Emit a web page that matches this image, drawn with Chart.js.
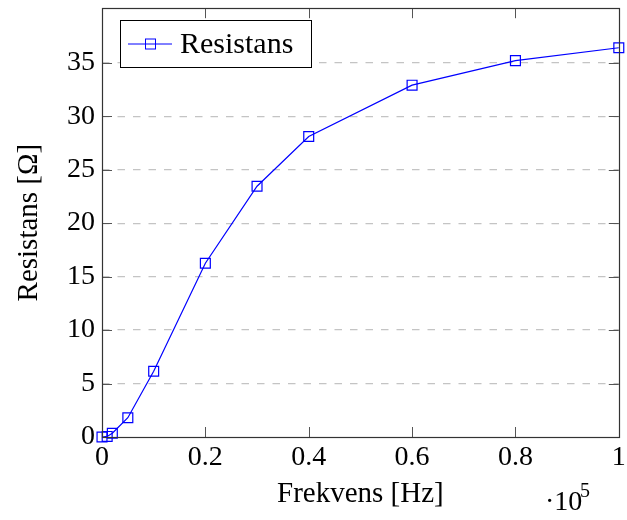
<!DOCTYPE html>
<html>
<head>
<meta charset="utf-8">
<script src="https://cdn.jsdelivr.net/npm/chart.js@4"></script>
<style>
html,body{margin:0;padding:0;background:#fff;}
#wrap{width:627px;height:520px;position:relative;}
</style>
</head>
<body>
<div id="wrap"><canvas id="c" width="627" height="520"></canvas></div>
<script>
const frequencies = [0, 1000, 2000, 5000, 10000, 20000, 30000, 40000, 60000, 80000, 100000];
const resistance = [0, 0.05, 0.35, 1.8, 6.15, 16.25, 23.45, 28.1, 32.9, 35.2, 36.4];
const xTickValues = [0, 20000, 40000, 60000, 80000, 100000];
const yTickValues = [0, 5, 10, 15, 20, 25, 30, 35];
const seriesLabel = 'Resistans';
const xTitle = 'Frekvens [Hz]';
const yTitle = 'Resistans [Ω]';

const FONT = '"Liberation Serif", "Times New Roman", serif';
const BLUE = '#0000ff';

const framePlugin = {
  id: 'frame',
  afterDraw(chart) {
    const {ctx, chartArea: a, scales: {x, y}} = chart;
    ctx.save();
    // ticks inside
    ctx.strokeStyle = '#555';
    ctx.lineWidth = 1;
    const tl = 10;
    ctx.beginPath();
    xTickValues.forEach(v => {
      const px = Math.round(x.getPixelForValue(v)) + 0.5;
      ctx.moveTo(px, a.bottom); ctx.lineTo(px, a.bottom - tl);
      ctx.moveTo(px, a.top); ctx.lineTo(px, a.top + tl);
    });
    yTickValues.forEach(v => {
      const py = Math.round(y.getPixelForValue(v)) + 0.5;
      ctx.moveTo(a.left, py); ctx.lineTo(a.left + tl, py);
      ctx.moveTo(a.right, py); ctx.lineTo(a.right - tl, py);
    });
    ctx.stroke();
    // frame
    ctx.strokeStyle = '#333';
    ctx.lineWidth = 1.2;
    ctx.strokeRect(Math.round(a.left) + 0.5, Math.round(a.top) + 0.5,
                   Math.round(a.right - a.left), Math.round(a.bottom - a.top));
    // legend
    const lx = 120.5, ly = 20.5, lw = 191, lh = 47;
    ctx.fillStyle = '#fff';
    ctx.fillRect(lx, ly, lw, lh);
    ctx.strokeStyle = '#000';
    ctx.lineWidth = 1;
    ctx.strokeRect(lx, ly, lw, lh);
    const cy = ly + lh / 2;
    ctx.strokeStyle = BLUE;
    ctx.beginPath();
    ctx.moveTo(128, cy); ctx.lineTo(172, cy);
    ctx.stroke();
    ctx.strokeRect(145.5, cy - 5, 10, 10);
    ctx.fillStyle = '#000';
    ctx.font = '30px ' + FONT;
    ctx.textBaseline = 'middle';
    ctx.textAlign = 'left';
    ctx.fillText(seriesLabel, 180, cy + 1);
    // x10^5 multiplier
    ctx.font = '28px ' + FONT;
    ctx.textBaseline = 'alphabetic';
    ctx.fillText('·10', 545, 510);
    ctx.font = '20px ' + FONT;
    ctx.fillText('5', 580, 497);
    ctx.restore();
  }
};

new Chart(document.getElementById('c'), {
  type: 'line',
  data: {
    labels: frequencies,
    datasets: [{
      label: seriesLabel,
      data: frequencies.map((f, i) => ({x: f, y: resistance[i]})),
      borderColor: BLUE,
      backgroundColor: 'rgba(0,0,0,0)',
      borderWidth: 1.2,
      pointStyle: 'rect',
      pointRadius: 7,
      pointHoverRadius: 7,
      pointBorderWidth: 1.2,
      pointBorderColor: BLUE,
      pointBackgroundColor: 'rgba(0,0,0,0)',
      tension: 0,
      clip: false
    }]
  },
  options: {
    responsive: false,
    animation: false,
    events: [],
    layout: {padding: {top: 6, right: 5, left: 0, bottom: 0}},
    plugins: {legend: {display: false}, tooltip: {enabled: false}},
    scales: {
      x: {
        type: 'linear',
        min: 0, max: 100000,
        afterFit(s) { s.height = 83; s.paddingLeft = 0; s.paddingRight = 0; },
        afterBuildTicks(s) { s.ticks = xTickValues.map(v => ({value: v})); },
        grid: {display: false, drawTicks: false},
        border: {display: false},
        ticks: {
          color: '#000',
          font: {family: FONT, size: 28},
          padding: 4,
          maxRotation: 0,
          autoSkip: false,
          callback: v => String(+(v / 100000).toFixed(1))
        },
        title: {
          display: true, text: xTitle, color: '#000',
          font: {family: FONT, size: 29},
          padding: {top: 0, bottom: 8}
        }
      },
      y: {
        type: 'linear',
        min: 0, max: 40.1,
        afterFit(s) { s.width = 102; s.paddingTop = 0; s.paddingBottom = 0; },
        afterBuildTicks(s) { s.ticks = yTickValues.map(v => ({value: v})); },
        grid: {
          display: true, drawTicks: false,
          color: ctx => ctx.tick && ctx.tick.value === 0 ? 'rgba(0,0,0,0)' : '#c4c4c4',
          lineWidth: 1.2
        },
        border: {display: false, dash: [7.5, 8]},
        ticks: {
          color: '#000',
          font: {family: FONT, size: 28},
          padding: 7,
          autoSkip: false
        },
        title: {
          display: true, text: yTitle, color: '#000',
          font: {family: FONT, size: 29},
          padding: {top: 12, bottom: 0}
        }
      }
    }
  },
  plugins: [framePlugin]
});
</script>
</body>
</html>
